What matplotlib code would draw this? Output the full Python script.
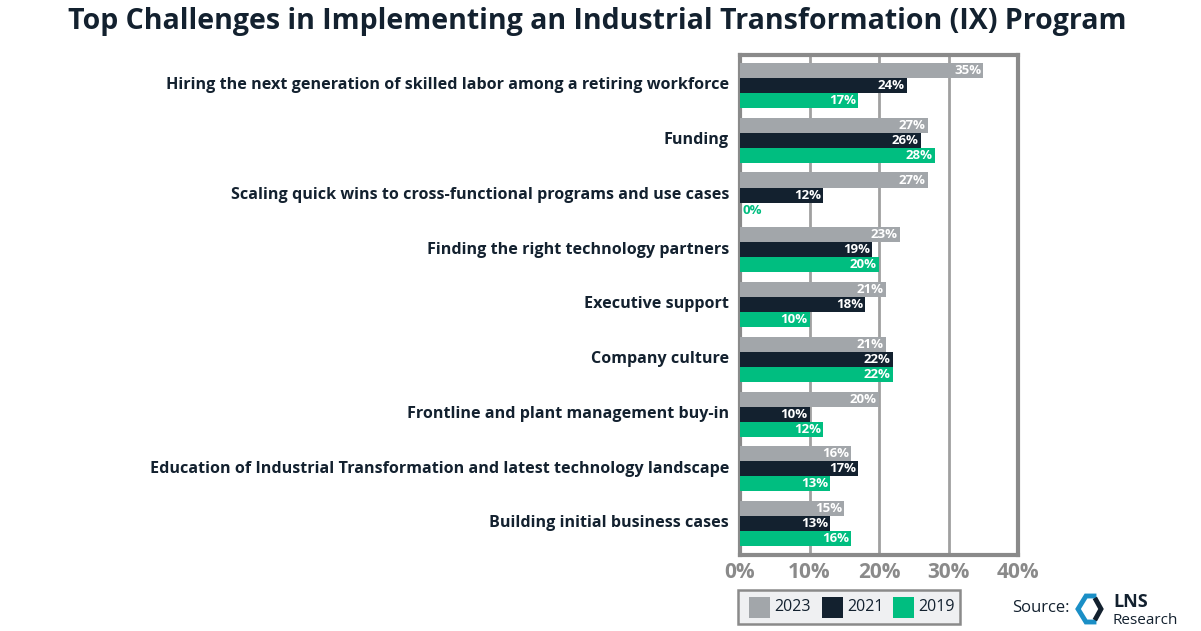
import numpy as np
import matplotlib
matplotlib.use("Agg")
import matplotlib.pyplot as plt
from matplotlib.patches import Rectangle
from matplotlib.lines import Line2D

plt.rcParams['font.family'] = ['Open Sans', 'DejaVu Sans']

# data
categories = [
    "Hiring the next generation of skilled labor among a retiring workforce",
    "Funding",
    "Scaling quick wins to cross-functional programs and use cases",
    "Finding the right technology partners",
    "Executive support",
    "Company culture",
    "Frontline and plant management buy-in",
    "Education of Industrial Transformation and latest technology landscape",
    "Building initial business cases",
]
years = ["2023", "2021", "2019"]
v2023 = [35, 27, 27, 23, 21, 21, 20, 16, 15]
v2021 = [24, 26, 12, 19, 18, 22, 10, 17, 13]
v2019 = [17, 28, 0, 20, 10, 22, 12, 13, 16]
xticks = [0, 10, 20, 30, 40]

colors = ["#a2a6aa", "#13212f", "#00be80"]
navy = "#13212f"
grey = "#8a8a8a"

fig = plt.figure(figsize=(12.01, 6.31), dpi=100)
ax = fig.add_axes([740 / 1201, 1 - 555 / 631, 278 / 1201, 500 / 631])

y = np.arange(len(categories))
h = 0.274
series = [v2023, v2021, v2019]
for k, (vals, col) in enumerate(zip(series, colors)):
    pos = y + (k - 1) * h
    ax.barh(pos, vals, height=h, color=col, zorder=3)
    for p, v in zip(pos, vals):
        if v == 0:
            ax.text(0.3, p, "0%", ha="left", va="center", color=col,
                    fontsize=9.5, fontweight="bold", zorder=4)
        else:
            ax.text(v - 0.3, p, f"{v}%", ha="right", va="center", color="white",
                    fontsize=9.5, fontweight="bold", zorder=4)

ax.set_xlim(0, 40)
ax.set_ylim(8.575, -0.557)
ax.set_yticks(y - 0.04)
ax.set_yticklabels(categories, fontsize=11.6, fontweight="bold", color=navy)
ax.set_xticks(xticks)
ax.set_xticklabels([f"{t}%" for t in xticks], fontsize=15, fontweight="bold", color=grey)
ax.tick_params(axis="both", length=0)
ax.tick_params(axis="y", pad=8)
ax.tick_params(axis="x", pad=5)
ax.grid(axis="x", color="#a0a0a0", linewidth=2, zorder=0)
for s in ax.spines.values():
    s.set_color("#8a8a8a")
    s.set_linewidth(3)

fig.text(597 / 1201, 1 - 22 / 631, "Top Challenges in Implementing an Industrial Transformation (IX) Program",
         ha="center", va="center", fontsize=20.5, fontweight="bold", color=navy)

# legend box
lx0, ly0, lw, lh = 738, 590, 222, 34
fig.patches.append(Rectangle((lx0 / 1201, 1 - (ly0 + lh) / 631), lw / 1201, lh / 631,
                             transform=fig.transFigure, facecolor="#eff0f2",
                             edgecolor="#8a8a8a", linewidth=1.8))
sq = [(749, "2023"), (822, "2021"), (893, "2019")]
for (sx, lab), col in zip(sq, colors):
    fig.patches.append(Rectangle((sx / 1201, 1 - 618 / 631), 21 / 1201, 21 / 631,
                                 transform=fig.transFigure, facecolor=col, edgecolor="none"))
    fig.text((sx + 25) / 1201, 1 - 607 / 631, lab, ha="left", va="center",
             fontsize=11.5, color=navy)

# source + logo
def fx(px):
    return px / 1201
def fy(py):
    return 1 - py / 631
fig.text(fx(1012), fy(608), "Source:", ha="left", va="center", fontsize=12, color=navy)
bracket = [(1094, 596), (1086, 596), (1078, 609), (1086, 622), (1094, 622)]
fig.add_artist(Line2D([fx(p[0]) for p in bracket], [fy(p[1]) for p in bracket],
                      color="#1b8fc6", linewidth=3.5, solid_joinstyle="miter"))
chev = [(1096, 600), (1101, 609), (1096, 618)]
fig.add_artist(Line2D([fx(p[0]) for p in chev], [fy(p[1]) for p in chev],
                      color=navy, linewidth=3.5, solid_joinstyle="miter"))
fig.text(fx(1113), fy(602), "LNS", ha="left", va="center", fontsize=13,
         fontweight="bold", color=navy)
fig.text(fx(1113), fy(620), "Research", ha="left", va="center", fontsize=11, color=navy)

fig.savefig("out.png", dpi=100)
